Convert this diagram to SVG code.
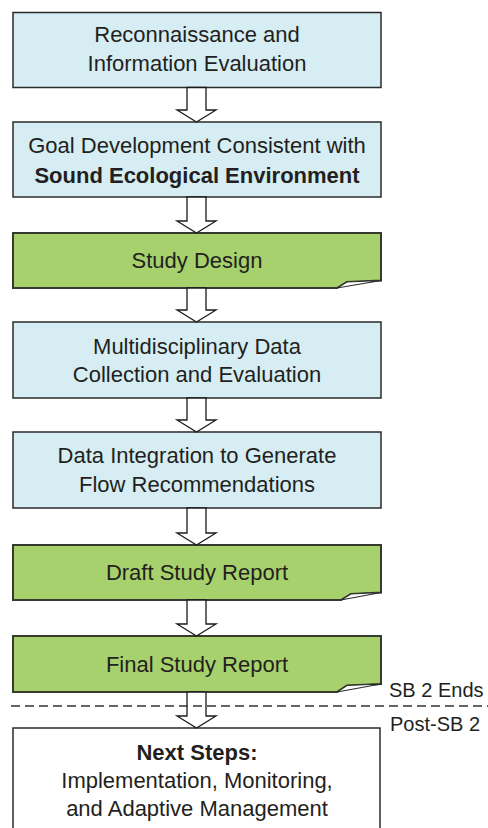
<svg xmlns="http://www.w3.org/2000/svg" width="488" height="828" viewBox="0 0 488 828">
<style>
.blue{fill:#d5edf3;stroke:#2b2b2b;stroke-width:1.5}
.green{fill:#a7d16c;stroke:#363b30;stroke-width:2}
.white{fill:#ffffff;stroke:#2b2b2b;stroke-width:1.5}
.fold{fill:#ffffff;stroke:#2b2b2b;stroke-width:1.2;stroke-linejoin:round}
.arrow{fill:#ffffff;stroke:#1a1a1a;stroke-width:1.3}
text{font-family:"Liberation Sans",Arial,sans-serif;font-size:22px;fill:#231f20;text-anchor:middle}
.b{font-weight:bold}
.lab{text-anchor:start;font-size:20px}
.dash{stroke:#333;stroke-width:1.5;stroke-dasharray:9,5;fill:none}
</style>
<rect width="488" height="828" fill="#ffffff"/>
<g id="n1">
<rect class="blue" x="13" y="12.5" width="368" height="75"/>
<text x="197" y="42">Reconnaissance and</text>
<text x="197" y="71">Information Evaluation</text>
</g>
<g id="n2">
<rect class="blue" x="13" y="122" width="368" height="75"/>
<text x="197" y="153">Goal Development Consistent with</text>
<text x="197" y="183" class="b">Sound Ecological Environment</text>
</g>
<g id="n3">
<path class="green" d="M13,233 H381 V280.5 L347,282 L337,288 H13 Z"/>
<path class="fold" d="M337,288 L347,282 L381,280.5 Z"/>
<text x="197" y="268">Study Design</text>
</g>
<g id="n4">
<rect class="blue" x="13" y="322" width="368" height="76"/>
<text x="197" y="354">Multidisciplinary Data</text>
<text x="197" y="382">Collection and Evaluation</text>
</g>
<g id="n5">
<rect class="blue" x="13" y="432" width="368" height="76"/>
<text x="197" y="463">Data Integration to Generate</text>
<text x="197" y="492">Flow Recommendations</text>
</g>
<g id="n6">
<path class="green" d="M13,545 H381 V592.5 L351,594 L341,600 H13 Z"/>
<path class="fold" d="M341,600 L351,594 L381,592.5 Z"/>
<text x="197" y="580">Draft Study Report</text>
</g>
<g id="n7">
<path class="green" d="M13,636 H381 V684 L347,685.5 L337,692 H13 Z"/>
<path class="fold" d="M337,692 L347,685.5 L381,684 Z"/>
<text x="197" y="672">Final Study Report</text>
</g>
<g id="n8">
<rect class="white" x="13" y="728" width="367" height="120"/>
<text x="197" y="760" class="b">Next Steps:</text>
<text x="197" y="788">Implementation, Monitoring,</text>
<text x="197" y="816">and Adaptive Management</text>
</g>
<g id="connectors">
<path class="arrow" d="M187,87.5 V110 H177 L196.5,122 L216,110 H206 V87.5 Z"/>
<path class="arrow" d="M187,197 V221 H177 L196.5,233 L216,221 H206 V197 Z"/>
<path class="arrow" d="M187,288 V310 H177 L196.5,322 L216,310 H206 V288 Z"/>
<path class="arrow" d="M187,398 V420 H177 L196.5,432 L216,420 H206 V398 Z"/>
<path class="arrow" d="M187,508 V533 H177 L196.5,545 L216,533 H206 V508 Z"/>
<path class="arrow" d="M187,600 V624 H177 L196.5,636 L216,624 H206 V600 Z"/>
<path class="arrow" d="M187,692 V716 H177 L196.5,728 L216,716 H206 V692 Z"/>
</g>
<g id="boundary">
<line class="dash" x1="11" y1="706" x2="488" y2="706"/>
<text class="lab" x="389" y="697">SB 2 Ends</text>
<text class="lab" x="390" y="731">Post-SB 2</text>
</g>
</svg>
